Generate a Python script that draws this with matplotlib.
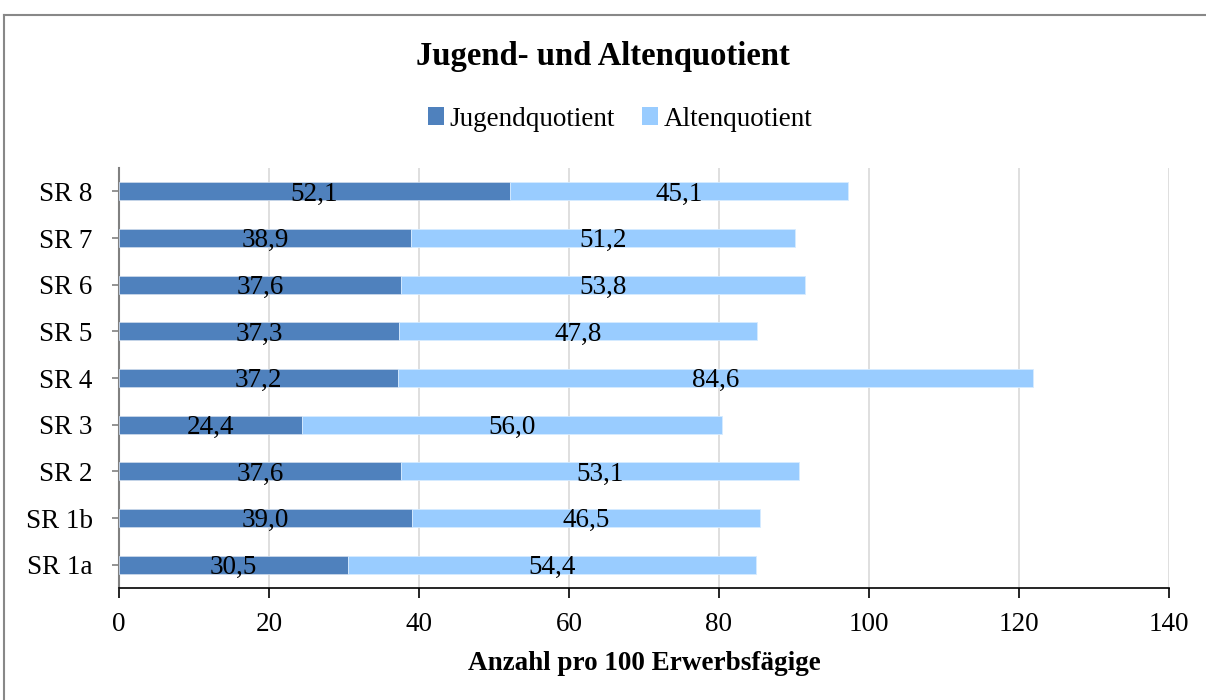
import matplotlib
matplotlib.use("Agg")
import matplotlib.pyplot as plt
from matplotlib.lines import Line2D
from matplotlib.patches import Patch

categories = ["SR 1a", "SR 1b", "SR 2", "SR 3", "SR 4", "SR 5", "SR 6", "SR 7", "SR 8"]
jugend = [30.5, 39.0, 37.6, 24.4, 37.2, 37.3, 37.6, 38.9, 52.1]
alten = [54.4, 46.5, 53.1, 56.0, 84.6, 47.8, 53.8, 51.2, 45.1]
xticks = [0, 20, 40, 60, 80, 100, 120, 140]

plt.rcParams['font.family'] = ['Liberation Serif', 'DejaVu Serif']

c_j = '#4F81BD'
c_a = '#99CCFF'
fs = 19.5

fig = plt.figure(figsize=(12.06, 7.0), dpi=100)
ax = fig.add_axes([119/1206, 1-588/700, 1050/1206, 420/700])

y = list(range(len(categories)))
h = 0.39
b1 = ax.barh(y, jugend, height=h, color=c_j, edgecolor='#C9D7EA', linewidth=0.6, zorder=3, label='Jugendquotient')
b2 = ax.barh(y, alten, left=jugend, height=h, color=c_a, edgecolor='#D6EBFF', linewidth=0.6, zorder=3, label='Altenquotient')

anns = ax.bar_label(b1, labels=[f"{v:.1f}".replace('.', ',') for v in jugend], label_type='center', fontsize=fs, zorder=4)
anns += ax.bar_label(b2, labels=[f"{v:.1f}".replace('.', ',') for v in alten], label_type='center', fontsize=fs, zorder=4)
for a in anns:
    a.xyann = (0, -2)

ax.set_xlim(0, 140)
ax.set_ylim(-0.5, len(categories) - 0.5)
ax.set_xticks(xticks)
ax.set_xticklabels([str(t) for t in xticks], fontsize=fs)
ax.set_yticks(y)
ax.set_yticklabels(categories, fontsize=fs)
ax.tick_params(axis='x', length=7, width=1.2, color='black', pad=10)
ax.tick_params(axis='y', length=5, width=1.2, color='#808080', pad=14)
ax.xaxis.grid(True, color='#D9D9D9', linewidth=1.2, zorder=0)
ax.set_axisbelow(True)
for s in ['top', 'right']:
    ax.spines[s].set_visible(False)
ax.spines['left'].set_color('#808080')
ax.spines['left'].set_linewidth(1.5)
ax.spines['bottom'].set_color('black')
ax.spines['bottom'].set_linewidth(1.2)

ax.set_xlabel('Anzahl pro 100 Erwerbsfägige', fontsize=fs, fontweight='bold', labelpad=10)

fig.text(0.5, 1-57/700, 'Jugend- und Altenquotient', ha='center', va='center', fontsize=23.5, fontweight='bold')

handles = [Patch(facecolor=c_j), Patch(facecolor=c_a)]
fig.legend(handles, ['Jugendquotient', 'Altenquotient'], loc='center', bbox_to_anchor=(0.514, 1-119/700),
           ncol=2, frameon=False, fontsize=fs, handlelength=0.6, handleheight=0.6,
           handletextpad=0.2, columnspacing=1.0)

fig.add_artist(Line2D([4/1206, 1], [1-15/700, 1-15/700], color='#888888', linewidth=1.5, transform=fig.transFigure))
fig.add_artist(Line2D([4/1206, 4/1206], [0, 1-15/700], color='#888888', linewidth=1.5, transform=fig.transFigure))

fig.savefig('out.png', dpi=100)
